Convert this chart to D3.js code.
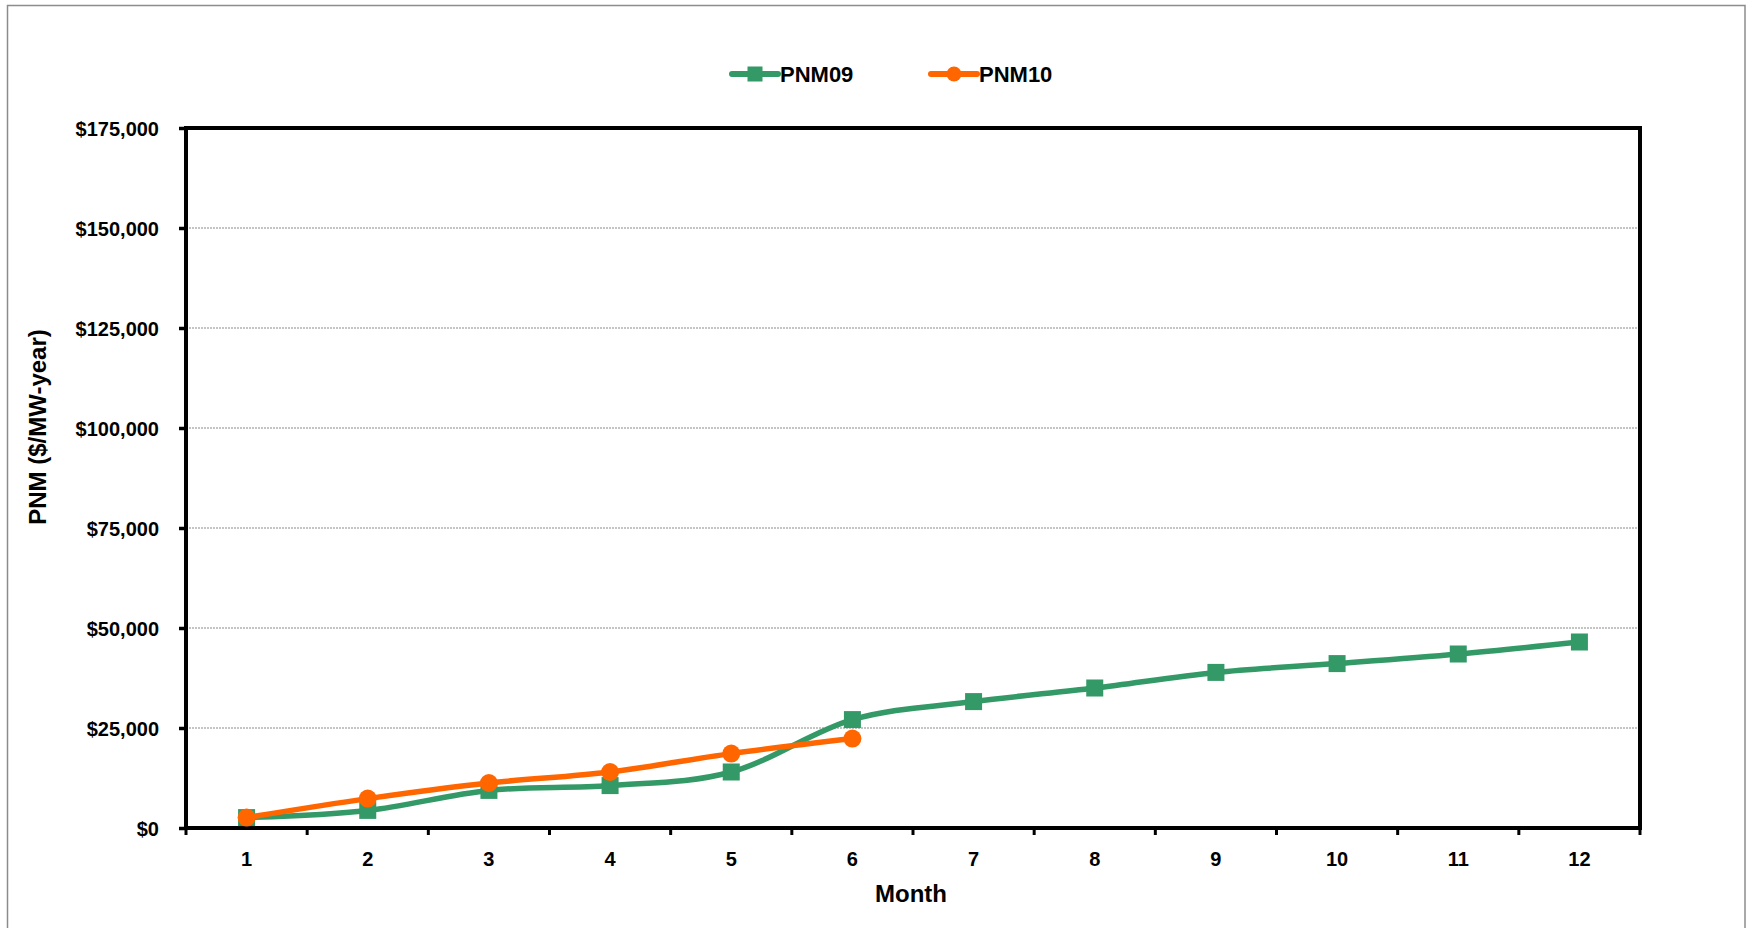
<!DOCTYPE html>
<html>
<head>
<meta charset="utf-8">
<script src="https://cdn.jsdelivr.net/npm/d3@7"></script>
<style>
  html, body { margin: 0; padding: 0; background: #fff; }
  svg { display: block; }
  text { font-family: "Liberation Sans", Arial, sans-serif; font-weight: bold; fill: #000; }
</style>
</head>
<body>
<svg id="chart" width="1749" height="928"></svg>
<script>
const months = ["1","2","3","4","5","6","7","8","9","10","11","12"];
const pnm09 = [2600, 4400, 9400, 10600, 14000, 27100, 31600, 35000, 38900, 41100, 43500, 46500];
const pnm10 = [2600, 7350, 11250, 14000, 18600, 22350];
const yTicks = [0, 25000, 50000, 75000, 100000, 125000, 150000, 175000];
const seriesNames = ["PNM09", "PNM10"];

const W = 1749, H = 928;
const plot = { left: 186, right: 1640, top: 128, bottom: 828 };
const colors = { PNM09: "#339966", PNM10: "#FF6600" };

const svg = d3.select("#chart");

// outer chart border
svg.append("rect")
  .attr("x", 7.5).attr("y", 5.5)
  .attr("width", 1745 - 7.5).attr("height", H + 20)
  .attr("fill", "none").attr("stroke", "#8c8c8c").attr("stroke-width", 1.5);

const x = d3.scaleBand().domain(months).range([plot.left, plot.right]).padding(0);
const y = d3.scaleLinear().domain([0, 175000]).range([plot.bottom, plot.top]);

// gridlines
svg.append("g")
  .selectAll("line")
  .data(yTicks.filter(d => d > 0 && d < 175000))
  .join("line")
  .attr("x1", plot.left).attr("x2", plot.right)
  .attr("y1", d => y(d)).attr("y2", d => y(d))
  .attr("stroke", "#8a8a8a").attr("stroke-width", 1.2)
  .attr("stroke-dasharray", "2,1");

// y axis
const fmt = d => "$" + d3.format(",")(d);
const yAxis = svg.append("g")
  .attr("transform", `translate(${plot.left},0)`)
  .call(d3.axisLeft(y).tickValues(yTicks).tickFormat(fmt).tickSize(7).tickPadding(20));
yAxis.select(".domain").remove();
yAxis.selectAll(".tick line").attr("stroke", "#000").attr("stroke-width", 3.5);
yAxis.selectAll(".tick text").attr("font-size", 20).attr("dy", "0.36em")
  .style("font-family", '"Liberation Sans", Arial, sans-serif').style("font-weight", "bold");

// x axis ticks at band boundaries
const boundaries = months.map(m => x(m)).concat([x(months[months.length - 1]) + x.bandwidth()]);
svg.append("g").selectAll("line")
  .data(boundaries)
  .join("line")
  .attr("x1", d => d).attr("x2", d => d)
  .attr("y1", plot.bottom).attr("y2", plot.bottom + 7)
  .attr("stroke", "#000").attr("stroke-width", 3);

svg.append("g").selectAll("text")
  .data(months)
  .join("text")
  .attr("x", d => x(d) + x.bandwidth() / 2)
  .attr("y", 859)
  .attr("dy", "0.36em")
  .attr("text-anchor", "middle")
  .attr("font-size", 20)
  .text(d => d);

// plot border
svg.append("rect")
  .attr("x", plot.left).attr("y", plot.top)
  .attr("width", plot.right - plot.left).attr("height", plot.bottom - plot.top)
  .attr("fill", "none").attr("stroke", "#000").attr("stroke-width", 4);

// axis titles
svg.append("text")
  .attr("transform", "translate(37,427) rotate(-90)")
  .attr("text-anchor", "middle").attr("dy", "0.36em")
  .attr("font-size", 24)
  .text("PNM ($/MW-year)");
svg.append("text")
  .attr("x", 911).attr("y", 893).attr("dy", "0.36em")
  .attr("text-anchor", "middle")
  .attr("font-size", 24)
  .text("Month");

// lines
const cx = (d, i) => x(months[i]) + x.bandwidth() / 2;
const line = d3.line().x(cx).y(d => y(d)).curve(d3.curveCatmullRom.alpha(0));

svg.append("path").datum(pnm09)
  .attr("d", line).attr("fill", "none")
  .attr("stroke", colors.PNM09).attr("stroke-width", 5.5).attr("stroke-linejoin", "round");
svg.append("g").selectAll("rect")
  .data(pnm09)
  .join("rect")
  .attr("x", (d, i) => cx(d, i) - 8.5).attr("y", d => y(d) - 8.5)
  .attr("width", 17).attr("height", 17)
  .attr("fill", colors.PNM09);

svg.append("path").datum(pnm10)
  .attr("d", line).attr("fill", "none")
  .attr("stroke", colors.PNM10).attr("stroke-width", 5.5).attr("stroke-linejoin", "round");
svg.append("g").selectAll("circle")
  .data(pnm10)
  .join("circle")
  .attr("cx", cx).attr("cy", d => y(d))
  .attr("r", 9)
  .attr("fill", colors.PNM10);

// legend
const legendItems = [
  { name: seriesNames[0], x0: 732, shape: "square" },
  { name: seriesNames[1], x0: 931, shape: "circle" }
];
const lg = svg.append("g");
legendItems.forEach(it => {
  const c = colors[it.name];
  lg.append("line")
    .attr("x1", it.x0).attr("x2", it.x0 + 46)
    .attr("y1", 74).attr("y2", 74)
    .attr("stroke", c).attr("stroke-width", 6).attr("stroke-linecap", "round");
  if (it.shape === "square") {
    lg.append("rect").attr("x", it.x0 + 23 - 7.5).attr("y", 74 - 7.5)
      .attr("width", 15).attr("height", 15).attr("fill", c);
  } else {
    lg.append("circle").attr("cx", it.x0 + 23).attr("cy", 74).attr("r", 7.5).attr("fill", c);
  }
  lg.append("text")
    .attr("x", it.x0 + 48).attr("y", 74).attr("dy", "0.36em")
    .attr("font-size", 22)
    .text(it.name);
});
</script>
</body>
</html>
